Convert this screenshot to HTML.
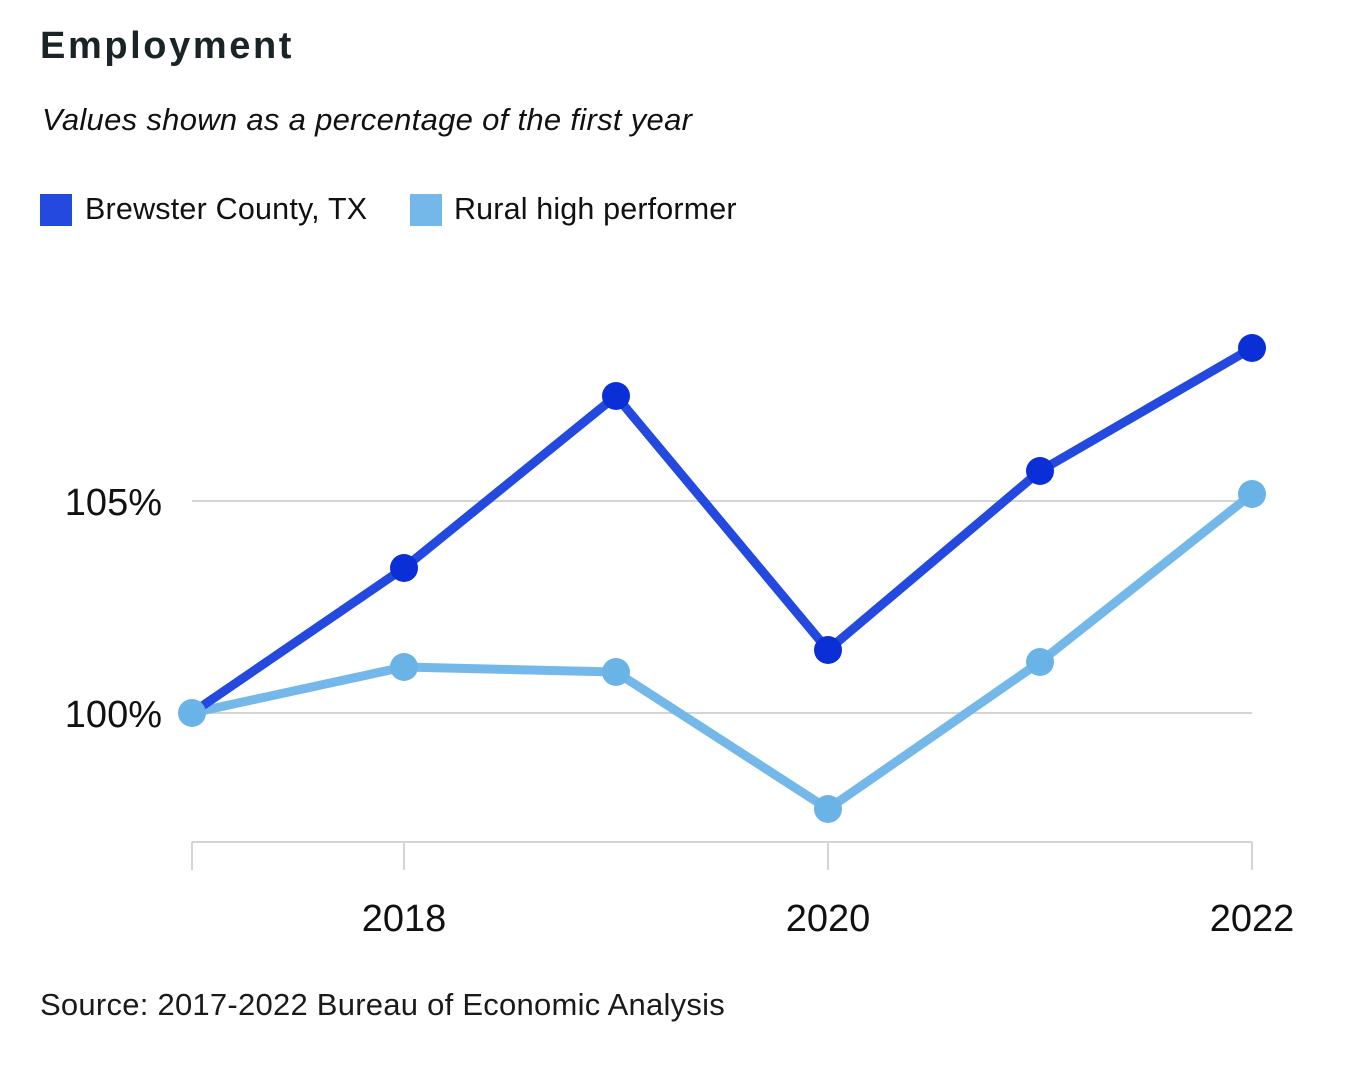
<!DOCTYPE html>
<html><head><meta charset="utf-8"><style>
html,body{margin:0;padding:0;background:#fff;width:1356px;height:1072px;overflow:hidden}
body{position:relative;font-family:"Liberation Sans",sans-serif}
.t{position:absolute;white-space:nowrap;color:#111}
</style></head><body>
<div class="t" style="left:40px;top:25px;font-size:38px;font-weight:bold;color:#1a2426;letter-spacing:2.6px">Employment</div>
<div class="t" style="left:42px;top:102px;font-size:31px;font-style:italic;letter-spacing:0.3px">Values shown as a percentage of the first year</div>
<div style="position:absolute;left:40px;top:194px;width:32px;height:32px;background:#2449df"></div>
<div class="t" style="left:85px;top:192px;font-size:30.5px;letter-spacing:0.2px">Brewster County, TX</div>
<div style="position:absolute;left:410px;top:194px;width:32px;height:32px;background:#74b8e9"></div>
<div class="t" style="left:454px;top:192px;font-size:30.5px;letter-spacing:0.15px">Rural high performer</div>
<svg width="1356" height="1072" style="position:absolute;left:0;top:0">
<g stroke="#d4d4d4" stroke-width="2">
<line x1="192" y1="501" x2="1252" y2="501"/>
<line x1="192" y1="713" x2="1252" y2="713"/>
<line x1="192" y1="842" x2="1252" y2="842"/>
<line x1="192" y1="842" x2="192" y2="870"/><line x1="404" y1="842" x2="404" y2="870"/>
<line x1="828" y1="842" x2="828" y2="870"/><line x1="1252" y1="842" x2="1252" y2="870"/>
</g>
<g font-family="Liberation Sans" font-size="38" fill="#111">
<text x="162" y="515" text-anchor="end">105%</text>
<text x="162" y="727" text-anchor="end">100%</text>
<text x="404" y="931" text-anchor="middle">2018</text>
<text x="828" y="931" text-anchor="middle">2020</text>
<text x="1252" y="931" text-anchor="middle">2022</text>
</g>
<polyline points="192,713 404,667 616,672 828,809 1040,662 1252,494" fill="none" stroke="#74b8e9" stroke-width="9" stroke-linejoin="round"/>
<polyline points="192,713 404,568 616,396 828,650 1040,471 1252,348" fill="none" stroke="#2449df" stroke-width="9" stroke-linejoin="round"/>
<g fill="#0b2fd6">
<circle cx="404" cy="568" r="14"/><circle cx="616" cy="396" r="14"/><circle cx="828" cy="650" r="14"/><circle cx="1040" cy="471" r="14"/><circle cx="1252" cy="348" r="14"/>
</g>
<g fill="#6ab3e7">
<circle cx="192" cy="713" r="14"/><circle cx="404" cy="667" r="14"/><circle cx="616" cy="672" r="14"/><circle cx="828" cy="809" r="14"/><circle cx="1040" cy="662" r="14"/><circle cx="1252" cy="494" r="14"/>
</g>
</svg>
<div class="t" style="left:40px;top:987px;font-size:31px;color:#1a1a1a;letter-spacing:0.25px">Source: 2017-2022 Bureau of Economic Analysis</div>
</body></html>
